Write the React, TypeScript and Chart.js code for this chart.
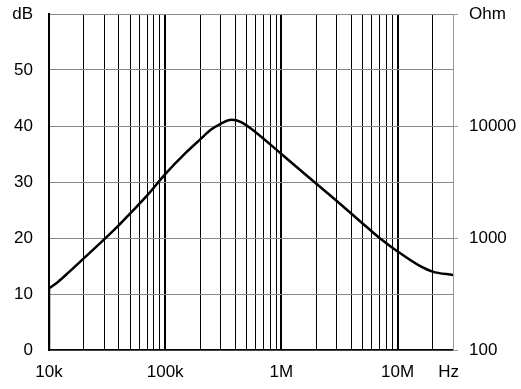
import React, { useEffect, useRef } from "react";
import { Chart, registerables } from "chart.js";

Chart.register(...registerables);

// Frequency (Hz) and level (dB)
const freqHz = [
  10000, 10000, 12000, 15000, 20000, 30000, 40000, 50000, 70000, 100000, 150000,
  200000, 250000, 300000, 372000, 450000, 600000, 1000000, 2000000,
  3000000, 5000000, 7000000, 10000000, 15000000, 20000000, 30000000,
];
const levelDb = [
  0, 11.0, 12.2, 14.0, 16.4, 19.8, 22.3, 24.4, 27.6, 31.4, 35.2,
  37.6, 39.4, 40.4, 41.1, 40.7, 38.9, 35.0, 29.7,
  26.6, 22.6, 20.0, 17.6, 15.2, 14.0, 13.4,
];

const xTickValues = [
  10000, 20000, 30000, 40000, 50000, 60000, 70000, 80000, 90000,
  100000, 200000, 300000, 400000, 500000, 600000, 700000, 800000, 900000,
  1000000, 2000000, 3000000, 4000000, 5000000, 6000000, 7000000, 8000000, 9000000,
  10000000, 20000000, 27500000,
];
const xTickLabels: Record<number, string> = {
  10000: "10k",
  100000: "100k",
  1000000: "1M",
  10000000: "10M",
  27500000: "Hz",
};
const decades = [10000, 100000, 1000000, 10000000];

const dbTickValues = [0, 10, 20, 30, 40, 50, 60];
const dbTickLabels = ["0", "10", "20", "30", "40", "50", "dB"];

const ohmTickValues = [100, 1000, 10000, 100000];
const ohmTickLabels = ["100", "1000", "10000", "Ohm"];

const FONT = { family: "'Liberation Sans', Arial, sans-serif", size: 17 };

export default function App() {
  const ref = useRef<HTMLCanvasElement | null>(null);

  useEffect(() => {
    if (!ref.current) return;
    const pts = freqHz.map((f, i) => ({ x: f, y: levelDb[i] }));
    const chart = new Chart(ref.current, {
      type: "line",
      data: {
        datasets: [
          {
            data: pts.slice(0, 2),
            borderColor: "#000",
            borderWidth: 2.5,
            pointRadius: 0,
            tension: 0,
            yAxisID: "y",
          },
          {
            data: pts.slice(1),
            borderColor: "#000",
            borderWidth: 2.5,
            pointRadius: 0,
            cubicInterpolationMode: "monotone",
            yAxisID: "y",
          },
        ],
      },
      options: {
        animation: false,
        responsive: true,
        maintainAspectRatio: false,
        layout: { padding: { top: 14, bottom: 0, left: 0, right: 0 } },
        plugins: { legend: { display: false }, tooltip: { enabled: false } },
        scales: {
          x: {
            type: "logarithmic",
            min: 10000,
            max: 30000000,
            afterBuildTicks: (s: any) => {
              s.ticks = xTickValues.map((v) => ({ value: v }));
            },
            afterFit: (s: any) => {
              s.height = 39;
              s.paddingLeft = 0;
              s.paddingRight = 0;
            },
            ticks: {
              autoSkip: false,
              maxRotation: 0,
              padding: 12,
              color: "#000",
              font: FONT,
              callback: (v: any) => xTickLabels[Number(v)] ?? "",
            },
            grid: {
              drawTicks: false,
              color: (ctx: any) =>
                ctx.tick && ctx.tick.value === 27500000 ? "rgba(0,0,0,0)" : "#000",
              lineWidth: (ctx: any) =>
                ctx.tick && decades.includes(ctx.tick.value) ? 2 : 1,
            },
            border: { display: true, color: "#000", width: 1.5 },
          },
          y: {
            type: "linear",
            position: "left",
            min: 0,
            max: 60,
            afterBuildTicks: (s: any) => {
              s.ticks = dbTickValues.map((v) => ({ value: v }));
            },
            afterFit: (s: any) => {
              s.width = 49;
              s.paddingTop = 0;
              s.paddingBottom = 0;
            },
            ticks: {
              padding: 16,
              color: "#000",
              font: FONT,
              callback: (v: any) => dbTickLabels[dbTickValues.indexOf(Number(v))] ?? "",
            },
            grid: { drawTicks: false, color: "#888", lineWidth: 1 },
            border: { display: true, color: "#000", width: 2 },
          },
          y2: {
            type: "logarithmic",
            position: "right",
            min: 100,
            max: 100000,
            afterBuildTicks: (s: any) => {
              s.ticks = ohmTickValues.map((v) => ({ value: v }));
            },
            afterFit: (s: any) => {
              s.width = 68;
              s.paddingTop = 0;
              s.paddingBottom = 0;
            },
            ticks: {
              padding: 11,
              color: "#000",
              font: FONT,
              callback: (v: any) => ohmTickLabels[ohmTickValues.indexOf(Number(v))] ?? "",
            },
            grid: { drawOnChartArea: false, drawTicks: true, tickLength: 5, color: "#999" },
            border: { display: true, color: "#999", width: 1 },
          },
        },
      },
    });
    return () => chart.destroy();
  }, []);

  return (
    <div style={{ position: "fixed", left: 0, top: 0, width: 521, height: 389, background: "#fff" }}>
      <canvas ref={ref} />
    </div>
  );
}
